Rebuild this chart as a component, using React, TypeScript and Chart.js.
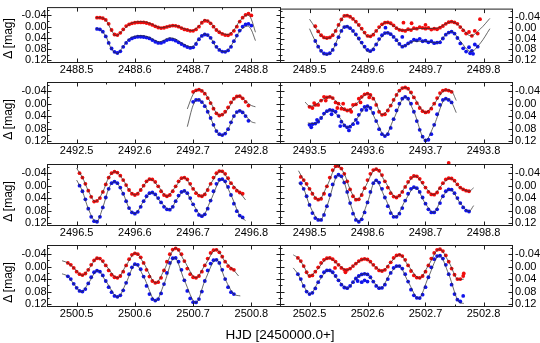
import { useEffect, useRef } from 'react';
import { Chart, registerables } from 'chart.js';

Chart.register(...registerables);

type Pair = [number, number];

// ---------- axes ----------
const panelDays = [2488, 2489, 2492, 2493, 2496, 2498, 2500, 2502];
const xRangeFractions = [0.45, 0.85];
const xTickFractions = [0.5, 0.6, 0.7, 0.8];
const xMinorFractions = [0.55, 0.65, 0.75];
const yRange = [-0.068, 0.128];
const yTicks = [-0.04, 0.0, 0.04, 0.08, 0.12];
const yTickLabels = ['-0.04', '0.00', '0.04', '0.08', '0.12'];
const yMinorTicks = [-0.06, -0.02, 0.02, 0.06, 0.1];
const xTitle = 'HJD [2450000.0+]';
const yTitle = 'Δ [mag]';

// ---------- panel 1 (2488) ----------
const p1T = [0.535, 0.54, 0.545, 0.55, 0.555, 0.56, 0.565, 0.57, 0.575, 0.58, 0.585, 0.59, 0.595, 0.6, 0.605, 0.61, 0.615, 0.62, 0.625, 0.63, 0.635, 0.64, 0.645, 0.65, 0.655, 0.66, 0.665, 0.67, 0.675, 0.68, 0.685, 0.69, 0.695, 0.7, 0.705, 0.71, 0.715, 0.72, 0.725, 0.73, 0.735, 0.74, 0.745, 0.75, 0.755, 0.76, 0.765, 0.77, 0.775, 0.78, 0.785, 0.79, 0.795, 0.8];
const p1R = [-0.032, -0.032, -0.03, -0.024, -0.01, 0.012, 0.028, 0.03, 0.022, 0.01, -0.002, -0.008, -0.012, -0.014, -0.015, -0.015, -0.015, -0.013, -0.01, -0.006, -0.001, 0.003, 0.005, 0.004, 0.001, -0.002, -0.004, -0.003, 0.0, 0.005, 0.01, 0.012, 0.015, 0.015, 0.01, 0.0, -0.014, -0.021, -0.02, -0.012, 0.0, 0.012, 0.02, 0.026, 0.03, 0.031, 0.026, 0.015, 0.0, -0.018, -0.032, -0.042, -0.046, -0.04];
const p1B = [0.008, 0.01, 0.018, 0.035, 0.058, 0.078, 0.09, 0.094, 0.088, 0.072, 0.058, 0.048, 0.042, 0.038, 0.036, 0.036, 0.037, 0.039, 0.042, 0.048, 0.054, 0.058, 0.058, 0.054, 0.048, 0.045, 0.046, 0.05, 0.056, 0.062, 0.068, 0.073, 0.076, 0.074, 0.062, 0.045, 0.033, 0.028, 0.03, 0.04, 0.056, 0.072, 0.083, 0.089, 0.09, 0.085, 0.072, 0.052, 0.032, 0.014, 0.0, -0.008, -0.01, -0.004];
const p1ModelRed: Pair[] = [[0.533, -0.032], [0.54, -0.032], [0.55, -0.024], [0.56, 0.014], [0.567, 0.032], [0.58, 0.012], [0.59, -0.008], [0.6, -0.016], [0.61, -0.018], [0.62, -0.016], [0.63, -0.008], [0.645, 0.004], [0.66, -0.002], [0.668, -0.004], [0.68, 0.004], [0.698, 0.014], [0.71, -0.002], [0.72, -0.024], [0.73, -0.014], [0.74, 0.012], [0.76, 0.028], [0.77, 0.012], [0.78, -0.02], [0.794, -0.042], [0.8, -0.026], [0.807, 0.02]];
const p1ModelBlue: Pair[] = [[0.533, 0.006], [0.54, 0.01], [0.55, 0.034], [0.56, 0.08], [0.57, 0.096], [0.58, 0.07], [0.59, 0.044], [0.6, 0.034], [0.612, 0.032], [0.625, 0.038], [0.642, 0.054], [0.66, 0.04], [0.67, 0.044], [0.68, 0.058], [0.698, 0.072], [0.71, 0.044], [0.72, 0.026], [0.73, 0.04], [0.74, 0.074], [0.755, 0.09], [0.77, 0.052], [0.78, 0.016], [0.794, -0.002], [0.8, 0.012], [0.807, 0.05]];

// ---------- panel 2 (2489) ----------
const p2T = [0.51, 0.515, 0.52, 0.525, 0.53, 0.535, 0.54, 0.545, 0.55, 0.555, 0.56, 0.565, 0.57, 0.575, 0.58, 0.585, 0.59, 0.595, 0.6, 0.605, 0.61, 0.615, 0.62, 0.625, 0.63, 0.635, 0.64, 0.645, 0.65, 0.655, 0.66, 0.665, 0.67, 0.675, 0.68, 0.685, 0.69, 0.695, 0.7, 0.705, 0.71, 0.715, 0.72, 0.725, 0.73, 0.735, 0.74, 0.745, 0.75, 0.755, 0.76, 0.765, 0.77, 0.775, 0.78, 0.785, 0.79];
const p2R = [-0.005, 0.014, 0.028, 0.036, 0.038, 0.036, 0.028, 0.012, -0.01, -0.03, -0.043, -0.044, -0.04, -0.032, -0.022, -0.01, 0.004, 0.018, 0.03, 0.032, 0.026, 0.012, -0.002, -0.012, -0.018, -0.019, -0.016, -0.008, 0.002, 0.008, 0.01, 0.012, 0.006, 0.009, 0.002, 0.004, -0.002, 0.001, 0.004, 0.001, 0.007, 0.004, 0.006, 0.0, -0.006, -0.014, -0.02, -0.022, -0.019, -0.014, -0.002, 0.01, 0.022, 0.016, 0.03, 0.012, 0.022];
const p2B = [0.049, 0.07, 0.085, 0.095, 0.097, 0.094, 0.082, 0.062, 0.035, 0.012, -0.002, -0.004, 0.002, 0.012, 0.025, 0.04, 0.055, 0.07, 0.082, 0.086, 0.08, 0.062, 0.042, 0.028, 0.02, 0.019, 0.024, 0.034, 0.046, 0.06, 0.07, 0.066, 0.058, 0.052, 0.044, 0.047, 0.041, 0.05, 0.048, 0.054, 0.05, 0.057, 0.055, 0.054, 0.04, 0.026, 0.018, 0.015, 0.022, 0.038, 0.058, 0.076, 0.088, 0.072, 0.085, 0.062, 0.07];
const p2RedExtra: Pair[] = [[0.662, -0.018], [0.676, -0.016], [0.7, -0.01], [0.794, -0.031]];
const p2BlueExtra: Pair[] = [[0.631, 0.0], [0.66, 0.034], [0.777, 0.094], [0.782, 0.096]];
const p2ModelRed: Pair[] = [[0.5, -0.031], [0.51, 0.0], [0.52, 0.028], [0.528, 0.04], [0.54, 0.028], [0.55, -0.008], [0.562, -0.046], [0.575, -0.032], [0.59, 0.006], [0.602, 0.034], [0.615, 0.012], [0.633, -0.02], [0.645, -0.006], [0.66, 0.01], [0.68, 0.005], [0.7, 0.003], [0.72, 0.002], [0.735, -0.014], [0.745, -0.022], [0.76, -0.004], [0.778, 0.03], [0.795, 0.004], [0.811, -0.034]];
const p2ModelBlue: Pair[] = [[0.5, 0.004], [0.51, 0.05], [0.52, 0.086], [0.528, 0.1], [0.54, 0.082], [0.55, 0.034], [0.562, -0.006], [0.575, 0.014], [0.59, 0.058], [0.603, 0.09], [0.615, 0.06], [0.634, 0.018], [0.648, 0.04], [0.66, 0.07], [0.68, 0.05], [0.7, 0.05], [0.72, 0.056], [0.735, 0.026], [0.745, 0.014], [0.76, 0.05], [0.778, 0.088], [0.795, 0.056], [0.811, 0.004]];

// ---------- panel 3 (2492) ----------
const p3T = [0.7, 0.705, 0.71, 0.715, 0.72, 0.725, 0.73, 0.735, 0.74, 0.745, 0.75, 0.755, 0.76, 0.765, 0.77, 0.775, 0.78, 0.785, 0.79, 0.795];
const p3R = [-0.038, -0.043, -0.045, -0.041, -0.032, -0.018, -0.002, 0.016, 0.031, 0.038, 0.035, 0.026, 0.012, -0.004, -0.016, -0.023, -0.024, -0.017, -0.006, 0.006];
const p3B = [-0.006, -0.012, -0.012, -0.005, 0.008, 0.026, 0.046, 0.068, 0.088, 0.098, 0.101, 0.096, 0.082, 0.06, 0.04, 0.027, 0.023, 0.028, 0.04, 0.055];
const p3ModelRed: Pair[] = [[0.69, 0.017], [0.7, -0.03], [0.71, -0.046], [0.72, -0.034], [0.73, -0.004], [0.74, 0.03], [0.745, 0.037], [0.752, 0.034], [0.76, 0.016], [0.77, -0.014], [0.779, -0.025], [0.79, -0.008], [0.8, 0.006], [0.807, 0.01]];
const p3ModelBlue: Pair[] = [[0.69, 0.074], [0.7, 0.005], [0.708, -0.014], [0.72, 0.006], [0.73, 0.046], [0.74, 0.088], [0.748, 0.102], [0.76, 0.082], [0.77, 0.04], [0.781, 0.022], [0.79, 0.038], [0.8, 0.058], [0.807, 0.062]];

// ---------- panel 4 (2493) ----------
const p4T = [0.5, 0.505, 0.51, 0.515, 0.52, 0.525, 0.53, 0.535, 0.54, 0.545, 0.55, 0.555, 0.56, 0.565, 0.57, 0.575, 0.58, 0.585, 0.59, 0.595, 0.6, 0.605, 0.61, 0.615, 0.62, 0.625, 0.63, 0.635, 0.64, 0.645, 0.65, 0.655, 0.66, 0.665, 0.67, 0.675, 0.68, 0.685, 0.69, 0.695, 0.7, 0.705, 0.71, 0.715, 0.72, 0.725, 0.73, 0.735, 0.74, 0.745];
const p4R = [0.01, 0.014, 0.004, 0.004, -0.01, -0.022, -0.02, -0.022, -0.018, -0.004, 0.0, 0.016, 0.018, 0.022, 0.02, 0.004, 0.002, -0.016, -0.022, -0.03, -0.032, -0.028, -0.016, 0.004, 0.026, 0.036, 0.034, 0.022, 0.006, -0.012, -0.028, -0.042, -0.05, -0.052, -0.048, -0.036, -0.02, -0.002, 0.014, 0.024, 0.028, 0.026, 0.016, 0.0, -0.018, -0.034, -0.042, -0.044, -0.042, -0.038];
const p4B = [0.068, 0.066, 0.064, 0.058, 0.046, 0.032, 0.024, 0.02, 0.022, 0.026, 0.04, 0.058, 0.07, 0.076, 0.074, 0.066, 0.052, 0.036, 0.02, 0.01, 0.008, 0.014, 0.03, 0.056, 0.082, 0.098, 0.104, 0.098, 0.078, 0.05, 0.022, 0.0, -0.016, -0.022, -0.016, 0.0, 0.026, 0.056, 0.084, 0.106, 0.118, 0.116, 0.098, 0.068, 0.034, 0.004, -0.012, -0.016, -0.012, -0.004];
const p4RedExtra: Pair[] = [[0.508, -0.002], [0.528, -0.01], [0.548, 0.014], [0.558, 0.0], [0.572, 0.026], [0.588, -0.004], [0.603, -0.02]];
const p4BlueExtra: Pair[] = [[0.503, 0.076], [0.513, 0.052], [0.538, 0.034], [0.553, 0.072], [0.568, 0.086], [0.583, 0.062], [0.598, 0.02]];
const p4ModelRed: Pair[] = [[0.4925, -0.005], [0.5, 0.008], [0.51, 0.004], [0.52, -0.01], [0.535, -0.022], [0.55, 0.0], [0.565, 0.022], [0.58, 0.002], [0.6, -0.032], [0.612, -0.012], [0.625, 0.036], [0.64, 0.006], [0.655, -0.042], [0.665, -0.052], [0.68, -0.02], [0.7, 0.028], [0.715, 0.0], [0.735, -0.044], [0.745, -0.04], [0.753, -0.01]];
const p4ModelBlue: Pair[] = [[0.497, 0.062], [0.51, 0.064], [0.52, 0.046], [0.535, 0.02], [0.55, 0.04], [0.565, 0.076], [0.58, 0.052], [0.6, 0.008], [0.615, 0.056], [0.63, 0.104], [0.645, 0.05], [0.665, -0.022], [0.68, 0.026], [0.7, 0.118], [0.715, 0.068], [0.735, -0.016], [0.745, -0.004], [0.753, 0.029]];

// ---------- panel 5 (2496) ----------
const p5T = [0.505, 0.51, 0.515, 0.52, 0.525, 0.53, 0.535, 0.54, 0.545, 0.55, 0.555, 0.56, 0.565, 0.57, 0.575, 0.58, 0.585, 0.59, 0.595, 0.6, 0.605, 0.61, 0.615, 0.62, 0.625, 0.63, 0.635, 0.64, 0.645, 0.65, 0.655, 0.66, 0.665, 0.67, 0.675, 0.68, 0.685, 0.69, 0.695, 0.7, 0.705, 0.71, 0.715, 0.72, 0.725, 0.73, 0.735, 0.74, 0.745, 0.75, 0.755, 0.76, 0.765, 0.77, 0.775, 0.78, 0.785];
const p5R = [-0.04, -0.026, -0.006, 0.016, 0.036, 0.051, 0.049, 0.04, 0.02, -0.004, -0.026, -0.04, -0.045, -0.042, -0.032, -0.018, -0.002, 0.014, 0.026, 0.03, 0.026, 0.014, 0.0, -0.014, -0.021, -0.02, -0.012, 0.002, 0.018, 0.03, 0.034, 0.03, 0.018, 0.002, -0.014, -0.024, -0.026, -0.02, -0.006, 0.01, 0.024, 0.032, 0.034, 0.028, 0.014, -0.006, -0.026, -0.04, -0.047, -0.046, -0.038, -0.024, -0.008, 0.006, 0.016, 0.022, 0.026];
const p5B = [0.0, 0.018, 0.044, 0.074, 0.1, 0.114, 0.116, 0.1, 0.07, 0.038, 0.01, -0.008, -0.013, -0.008, 0.006, 0.026, 0.05, 0.072, 0.086, 0.09, 0.084, 0.068, 0.05, 0.034, 0.024, 0.022, 0.028, 0.04, 0.054, 0.068, 0.076, 0.077, 0.068, 0.05, 0.032, 0.02, 0.017, 0.024, 0.04, 0.06, 0.08, 0.094, 0.098, 0.092, 0.074, 0.048, 0.018, -0.006, -0.019, -0.021, -0.014, 0.004, 0.03, 0.058, 0.082, 0.096, 0.102];
const p5ModelRed: Pair[] = [[0.5, -0.056], [0.51, -0.026], [0.52, 0.016], [0.532, 0.051], [0.545, 0.02], [0.555, -0.026], [0.566, -0.045], [0.58, -0.018], [0.59, 0.014], [0.6, 0.03], [0.612, 0.008], [0.626, -0.021], [0.64, 0.002], [0.655, 0.034], [0.668, 0.008], [0.684, -0.026], [0.7, 0.01], [0.715, 0.034], [0.73, -0.006], [0.747, -0.047], [0.765, -0.008], [0.78, 0.022], [0.79, 0.046]];
const p5ModelBlue: Pair[] = [[0.5, -0.018], [0.51, 0.018], [0.52, 0.074], [0.534, 0.117], [0.545, 0.07], [0.555, 0.01], [0.565, -0.013], [0.58, 0.026], [0.59, 0.072], [0.6, 0.09], [0.615, 0.05], [0.629, 0.022], [0.645, 0.054], [0.66, 0.077], [0.672, 0.044], [0.685, 0.017], [0.7, 0.06], [0.716, 0.098], [0.73, 0.048], [0.749, -0.021], [0.765, 0.03], [0.78, 0.096], [0.79, 0.112]];

// ---------- panel 6 (2498) ----------
const p6T = [0.485, 0.49, 0.495, 0.5, 0.505, 0.51, 0.515, 0.52, 0.525, 0.53, 0.535, 0.54, 0.545, 0.55, 0.555, 0.56, 0.565, 0.57, 0.575, 0.58, 0.585, 0.59, 0.595, 0.6, 0.605, 0.61, 0.615, 0.62, 0.625, 0.63, 0.635, 0.64, 0.645, 0.65, 0.655, 0.66, 0.665, 0.67, 0.675, 0.68, 0.685, 0.69, 0.695, 0.7, 0.705, 0.71, 0.715, 0.72, 0.725, 0.73, 0.735, 0.74, 0.745, 0.75, 0.755, 0.76, 0.765, 0.77, 0.775];
const p6R = [-0.028, -0.018, -0.006, 0.01, 0.026, 0.04, 0.045, 0.042, 0.026, 0.002, -0.026, -0.05, -0.062, -0.063, -0.055, -0.038, -0.014, 0.012, 0.034, 0.045, 0.044, 0.03, 0.008, -0.018, -0.038, -0.05, -0.053, -0.048, -0.034, -0.014, 0.006, 0.024, 0.035, 0.038, 0.032, 0.02, 0.004, -0.012, -0.025, -0.031, -0.03, -0.022, -0.01, 0.006, 0.02, 0.028, 0.029, 0.022, 0.008, -0.008, -0.02, -0.024, -0.023, -0.016, -0.004, 0.006, 0.012, 0.016, 0.018];
const p6B = [-0.008, 0.01, 0.034, 0.062, 0.088, 0.104, 0.11, 0.11, 0.094, 0.066, 0.03, -0.004, -0.028, -0.035, -0.03, -0.01, 0.02, 0.056, 0.09, 0.11, 0.116, 0.108, 0.086, 0.054, 0.02, -0.008, -0.017, -0.01, 0.01, 0.038, 0.066, 0.088, 0.1, 0.1, 0.09, 0.072, 0.048, 0.026, 0.01, 0.005, 0.008, 0.02, 0.038, 0.058, 0.076, 0.086, 0.086, 0.076, 0.056, 0.034, 0.018, 0.012, 0.013, 0.024, 0.04, 0.056, 0.07, 0.08, 0.083];
const p6RedExtra: Pair[] = [[0.74, -0.073]];
const p6ModelRed: Pair[] = [[0.481, -0.048], [0.49, -0.018], [0.5, 0.01], [0.516, 0.046], [0.53, 0.002], [0.548, -0.064], [0.56, -0.038], [0.57, 0.012], [0.582, 0.046], [0.595, 0.008], [0.615, -0.054], [0.63, -0.014], [0.65, 0.038], [0.665, 0.004], [0.682, -0.031], [0.7, 0.006], [0.714, 0.029], [0.728, -0.002], [0.742, -0.024], [0.76, 0.006], [0.775, 0.018], [0.783, 0.007]];
const p6ModelBlue: Pair[] = [[0.481, -0.009], [0.49, 0.01], [0.5, 0.062], [0.518, 0.112], [0.53, 0.066], [0.55, -0.035], [0.56, -0.01], [0.57, 0.056], [0.585, 0.116], [0.6, 0.054], [0.614, -0.017], [0.63, 0.038], [0.648, 0.101], [0.665, 0.048], [0.682, 0.005], [0.7, 0.058], [0.714, 0.087], [0.728, 0.04], [0.742, 0.012], [0.76, 0.056], [0.775, 0.083], [0.783, 0.064]];

// ---------- panel 7 (2500) ----------
const p7T = [0.485, 0.49, 0.495, 0.5, 0.505, 0.51, 0.515, 0.52, 0.525, 0.53, 0.535, 0.54, 0.545, 0.55, 0.555, 0.56, 0.565, 0.57, 0.575, 0.58, 0.585, 0.59, 0.595, 0.6, 0.605, 0.61, 0.615, 0.62, 0.625, 0.63, 0.635, 0.64, 0.645, 0.65, 0.655, 0.66, 0.665, 0.67, 0.675, 0.68, 0.685, 0.69, 0.695, 0.7, 0.705, 0.71, 0.715, 0.72, 0.725, 0.73, 0.735, 0.74, 0.745, 0.75, 0.755, 0.76, 0.765, 0.77];
const p7R = [-0.012, -0.006, 0.004, 0.016, 0.024, 0.027, 0.022, 0.01, -0.006, -0.02, -0.027, -0.026, -0.018, -0.004, 0.012, 0.026, 0.034, 0.036, 0.03, 0.016, -0.004, -0.024, -0.038, -0.043, -0.04, -0.03, -0.012, 0.01, 0.032, 0.046, 0.052, 0.05, 0.036, 0.012, -0.016, -0.04, -0.055, -0.059, -0.054, -0.04, -0.018, 0.006, 0.024, 0.034, 0.036, 0.03, 0.016, -0.004, -0.026, -0.044, -0.053, -0.054, -0.046, -0.032, -0.016, -0.002, 0.006, 0.01];
const p7B = [0.031, 0.04, 0.055, 0.068, 0.078, 0.08, 0.072, 0.054, 0.034, 0.018, 0.013, 0.016, 0.028, 0.046, 0.066, 0.082, 0.094, 0.097, 0.092, 0.076, 0.052, 0.024, 0.002, -0.008, -0.006, 0.008, 0.032, 0.062, 0.088, 0.104, 0.109, 0.104, 0.086, 0.056, 0.02, -0.012, -0.027, -0.028, -0.016, 0.01, 0.044, 0.078, 0.102, 0.114, 0.115, 0.104, 0.08, 0.046, 0.012, -0.01, -0.021, -0.022, -0.012, 0.01, 0.04, 0.066, 0.082, 0.088];
const p7ModelRed: Pair[] = [[0.475, -0.019], [0.485, -0.012], [0.495, 0.004], [0.51, 0.028], [0.522, 0.004], [0.536, -0.028], [0.55, -0.004], [0.57, 0.036], [0.585, -0.004], [0.601, -0.044], [0.615, -0.012], [0.636, 0.052], [0.65, 0.012], [0.67, -0.06], [0.685, -0.018], [0.705, 0.036], [0.72, -0.004], [0.74, -0.055], [0.755, -0.016], [0.77, 0.012], [0.778, 0.03]];
const p7ModelBlue: Pair[] = [[0.475, 0.023], [0.485, 0.031], [0.495, 0.055], [0.508, 0.081], [0.52, 0.054], [0.536, 0.012], [0.55, 0.046], [0.571, 0.098], [0.585, 0.052], [0.601, -0.008], [0.615, 0.032], [0.636, 0.11], [0.65, 0.056], [0.668, -0.029], [0.685, 0.044], [0.705, 0.116], [0.72, 0.046], [0.74, -0.023], [0.755, 0.04], [0.77, 0.088], [0.781, 0.094]];

// ---------- panel 8 (2502) ----------
const p8T = [0.48, 0.485, 0.49, 0.495, 0.5, 0.505, 0.51, 0.515, 0.52, 0.525, 0.53, 0.535, 0.54, 0.545, 0.55, 0.555, 0.56, 0.565, 0.57, 0.575, 0.58, 0.585, 0.59, 0.595, 0.6, 0.605, 0.61, 0.615, 0.62, 0.625, 0.63, 0.635, 0.64, 0.645, 0.65, 0.655, 0.66, 0.665, 0.67, 0.675, 0.68, 0.685, 0.69, 0.695, 0.7, 0.705, 0.71, 0.715, 0.72, 0.725, 0.73, 0.735, 0.74, 0.745, 0.75, 0.755, 0.76, 0.765];
const p8R = [-0.028, -0.018, -0.002, 0.018, 0.03, 0.028, 0.016, 0.002, -0.012, -0.022, -0.027, -0.028, -0.024, -0.016, -0.006, 0.004, 0.01, 0.01, 0.006, -0.002, -0.01, -0.018, -0.023, -0.025, -0.023, -0.016, -0.006, 0.004, 0.012, 0.014, 0.01, 0.0, -0.014, -0.028, -0.036, -0.038, -0.034, -0.022, -0.004, 0.014, 0.028, 0.035, 0.036, 0.03, 0.016, -0.004, -0.026, -0.044, -0.054, -0.056, -0.05, -0.036, -0.016, 0.006, 0.026, 0.04, 0.04, 0.03];
const p8B = [0.024, 0.04, 0.062, 0.08, 0.088, 0.084, 0.07, 0.05, 0.032, 0.018, 0.012, 0.012, 0.018, 0.03, 0.044, 0.058, 0.067, 0.069, 0.062, 0.05, 0.038, 0.03, 0.025, 0.023, 0.025, 0.034, 0.048, 0.062, 0.069, 0.068, 0.058, 0.04, 0.02, 0.004, -0.002, -0.002, 0.006, 0.024, 0.048, 0.074, 0.092, 0.1, 0.101, 0.09, 0.066, 0.034, 0.002, -0.024, -0.034, -0.035, -0.026, -0.006, 0.024, 0.058, 0.088, 0.106, 0.112, 0.094];
const p8RedExtra: Pair[] = [[0.544, 0.004], [0.562, 0.018], [0.766, 0.022]];
const p8BlueExtra: Pair[] = [[0.583, 0.046], [0.59, 0.05], [0.595, 0.044], [0.6, 0.048]];
const p8ModelRed: Pair[] = [[0.472, -0.038], [0.48, -0.028], [0.49, -0.002], [0.5, 0.031], [0.512, 0.012], [0.533, -0.028], [0.55, -0.006], [0.564, 0.011], [0.58, -0.01], [0.596, -0.025], [0.612, -0.002], [0.625, 0.014], [0.64, -0.014], [0.656, -0.039], [0.67, -0.004], [0.69, 0.037], [0.705, -0.004], [0.724, -0.057], [0.74, -0.016], [0.757, 0.042], [0.766, 0.04]];
const p8ModelBlue: Pair[] = [[0.472, 0.004], [0.48, 0.024], [0.49, 0.062], [0.501, 0.089], [0.515, 0.05], [0.533, 0.011], [0.55, 0.044], [0.565, 0.07], [0.58, 0.038], [0.597, 0.022], [0.612, 0.052], [0.622, 0.07], [0.64, 0.02], [0.654, -0.003], [0.67, 0.048], [0.688, 0.102], [0.705, 0.034], [0.724, -0.036], [0.74, 0.024], [0.758, 0.114], [0.766, 0.118]];

interface PanelData {
  day: number; t: number[]; red: number[]; blue: number[];
  modelRed: Pair[]; modelBlue: Pair[]; redExtra: Pair[]; blueExtra: Pair[];
}

const panels: PanelData[] = [
  { day: panelDays[0], t: p1T, red: p1R, blue: p1B, modelRed: p1ModelRed, modelBlue: p1ModelBlue, redExtra: [], blueExtra: [] },
  { day: panelDays[1], t: p2T, red: p2R, blue: p2B, modelRed: p2ModelRed, modelBlue: p2ModelBlue, redExtra: p2RedExtra, blueExtra: p2BlueExtra },
  { day: panelDays[2], t: p3T, red: p3R, blue: p3B, modelRed: p3ModelRed, modelBlue: p3ModelBlue, redExtra: [], blueExtra: [] },
  { day: panelDays[3], t: p4T, red: p4R, blue: p4B, modelRed: p4ModelRed, modelBlue: p4ModelBlue, redExtra: p4RedExtra, blueExtra: p4BlueExtra },
  { day: panelDays[4], t: p5T, red: p5R, blue: p5B, modelRed: p5ModelRed, modelBlue: p5ModelBlue, redExtra: [], blueExtra: [] },
  { day: panelDays[5], t: p6T, red: p6R, blue: p6B, modelRed: p6ModelRed, modelBlue: p6ModelBlue, redExtra: p6RedExtra, blueExtra: [] },
  { day: panelDays[6], t: p7T, red: p7R, blue: p7B, modelRed: p7ModelRed, modelBlue: p7ModelBlue, redExtra: [], blueExtra: [] },
  { day: panelDays[7], t: p8T, red: p8R, blue: p8B, modelRed: p8ModelRed, modelBlue: p8ModelBlue, redExtra: p8RedExtra, blueExtra: p8BlueExtra },
];

// ---------- layout / style ----------
const W = 540;
const H = 343;
const COLS = [[47.5, 280.5], [280.5, 512.5]];
const ROWS = [[1.5, 62.5], [82.5, 143.5], [164.5, 225.5], [245.5, 306.5]];
const X_AXIS_H = 14;
const FONT = "'Liberation Sans', Arial, Helvetica, sans-serif";
const RED = 'rgb(240,12,12)';
const BLUE = 'rgb(16,20,235)';
const MODEL = 'rgba(45,45,45,0.9)';
const FRAME = '#1e1e1e';

const framePlugin = {
  id: 'frame',
  afterDatasetsDraw(chart: any, _args: any, opts: any) {
    const { ctx, chartArea: a, scales } = chart;
    const x = scales.x;
    const y = scales.y;
    const day = opts.day as number;
    ctx.save();
    ctx.strokeStyle = FRAME;
    ctx.lineWidth = 1;
    ctx.strokeRect(a.left, a.top, a.right - a.left, a.bottom - a.top);
    ctx.beginPath();
    const vx = (f: number, len: number) => {
      const px = Math.round(x.getPixelForValue(day + f)) + 0.5;
      ctx.moveTo(px, a.bottom); ctx.lineTo(px, a.bottom - len);
      ctx.moveTo(px, a.top); ctx.lineTo(px, a.top + len);
    };
    const hy = (v: number, len: number) => {
      const py = Math.round(y.getPixelForValue(v)) + 0.5;
      ctx.moveTo(a.left, py); ctx.lineTo(a.left + len, py);
      ctx.moveTo(a.right, py); ctx.lineTo(a.right - len, py);
    };
    xTickFractions.forEach((f) => vx(f, 4));
    xMinorFractions.forEach((f) => vx(f, 2));
    yTicks.forEach((v) => hy(v, 4));
    yMinorTicks.forEach((v) => hy(v, 2));
    ctx.stroke();
    ctx.restore();
  },
};

function Panel({ idx }: { idx: number }) {
  const ref = useRef<HTMLCanvasElement>(null);
  useEffect(() => {
    const p = panels[idx];
    const col = idx % 2;
    const row = Math.floor(idx / 2);
    const [l, r] = COLS[col];
    const [t, b] = ROWS[row];
    const yAxisW = col === 0 ? l : W - r;
    const padding = col === 0
      ? { left: 0, right: W - r, top: t, bottom: H - b - X_AXIS_H }
      : { left: l, right: 0, top: t, bottom: H - b - X_AXIS_H };
    const toXY = (pairs: Pair[]) => pairs.map(([tt, v]) => ({ x: p.day + tt, y: v }));
    const series = (ts: number[], vs: number[]) => ts.map((tt, i) => ({ x: p.day + tt, y: vs[i] }));
    const line = (pairs: Pair[]) => ({
      type: 'line' as const,
      data: toXY(pairs),
      borderColor: MODEL,
      borderWidth: 0.8,
      pointRadius: 0,
      fill: false,
      showLine: true,
      cubicInterpolationMode: 'monotone' as const,
    });
    const pts = (data: { x: number; y: number }[], color: string, clip: any = undefined) => ({
      type: 'scatter' as const,
      data,
      backgroundColor: color,
      borderColor: color,
      borderWidth: 0,
      pointRadius: 1.9,
      ...(clip !== undefined ? { clip } : {}),
    });
    const chart = new Chart(ref.current as HTMLCanvasElement, {
      type: 'scatter',
      data: {
        datasets: [
          line(p.modelRed) as any,
          line(p.modelBlue) as any,
          pts(series(p.t, p.red), RED),
          pts(series(p.t, p.blue), BLUE),
          pts(toXY(p.redExtra), RED, false),
          pts(toXY(p.blueExtra), BLUE),
        ],
      },
      options: {
        animation: false,
        responsive: false,
        maintainAspectRatio: false,
        events: [],
        layout: { padding },
        plugins: {
          legend: { display: false },
          tooltip: { enabled: false },
          frame: { day: p.day },
        } as any,
        scales: {
          x: {
            type: 'linear',
            min: p.day + xRangeFractions[0],
            max: p.day + xRangeFractions[1],
            grid: { display: false, drawTicks: false },
            border: { display: false },
            ticks: {
              color: '#000',
              font: { family: FONT, size: 11 },
              padding: 1,
              maxRotation: 0,
              autoSkip: false,
              callback: (_v: any, i: number) => (p.day + xTickFractions[i]).toFixed(1),
            },
            afterBuildTicks: (s: any) => { s.ticks = xTickFractions.map((f) => ({ value: p.day + f })); },
            afterFit: (s: any) => { s.height = X_AXIS_H; },
          },
          y: {
            type: 'linear',
            reverse: true,
            position: col === 0 ? 'left' : 'right',
            min: yRange[0],
            max: yRange[1],
            grid: { display: false, drawTicks: false },
            border: { display: false },
            ticks: {
              color: '#000',
              font: { family: FONT, size: 11 },
              padding: col === 0 ? 1 : 2.5,
              autoSkip: false,
              callback: (_v: any, i: number) => yTickLabels[i],
            },
            afterBuildTicks: (s: any) => { s.ticks = yTicks.map((v) => ({ value: v })); },
            afterFit: (s: any) => { s.width = yAxisW; },
          },
        },
      } as any,
      plugins: [framePlugin as any],
    });
    return () => chart.destroy();
  }, [idx]);
  return (
    <canvas
      ref={ref}
      width={W}
      height={H}
      style={{ position: 'absolute', left: 0, top: 0, width: W, height: H }}
    />
  );
}

export default function App() {
  return (
    <div style={{ position: 'absolute', left: 0, top: 0, width: W, height: H, background: '#fff', overflow: 'hidden' }}>
      {panels.map((_, i) => <Panel key={i} idx={i} />)}
      {ROWS.map(([t], i) => (
        <div
          key={'yt' + i}
          style={{
            position: 'absolute', left: 7.7 - 40, top: t + 37 - 7.5, width: 80, height: 15,
            lineHeight: '15px', textAlign: 'center', transform: 'rotate(-90deg)',
            fontFamily: FONT, fontSize: 12, color: '#000', whiteSpace: 'nowrap',
          }}
        >
          {yTitle}
        </div>
      ))}
      <div
        style={{
          position: 'absolute', left: 180, top: 327, width: 200, height: 16,
          lineHeight: '16px', textAlign: 'center', fontFamily: FONT, fontSize: 13.5,
          color: '#000', whiteSpace: 'nowrap',
        }}
      >
        {xTitle}
      </div>
    </div>
  );
}
